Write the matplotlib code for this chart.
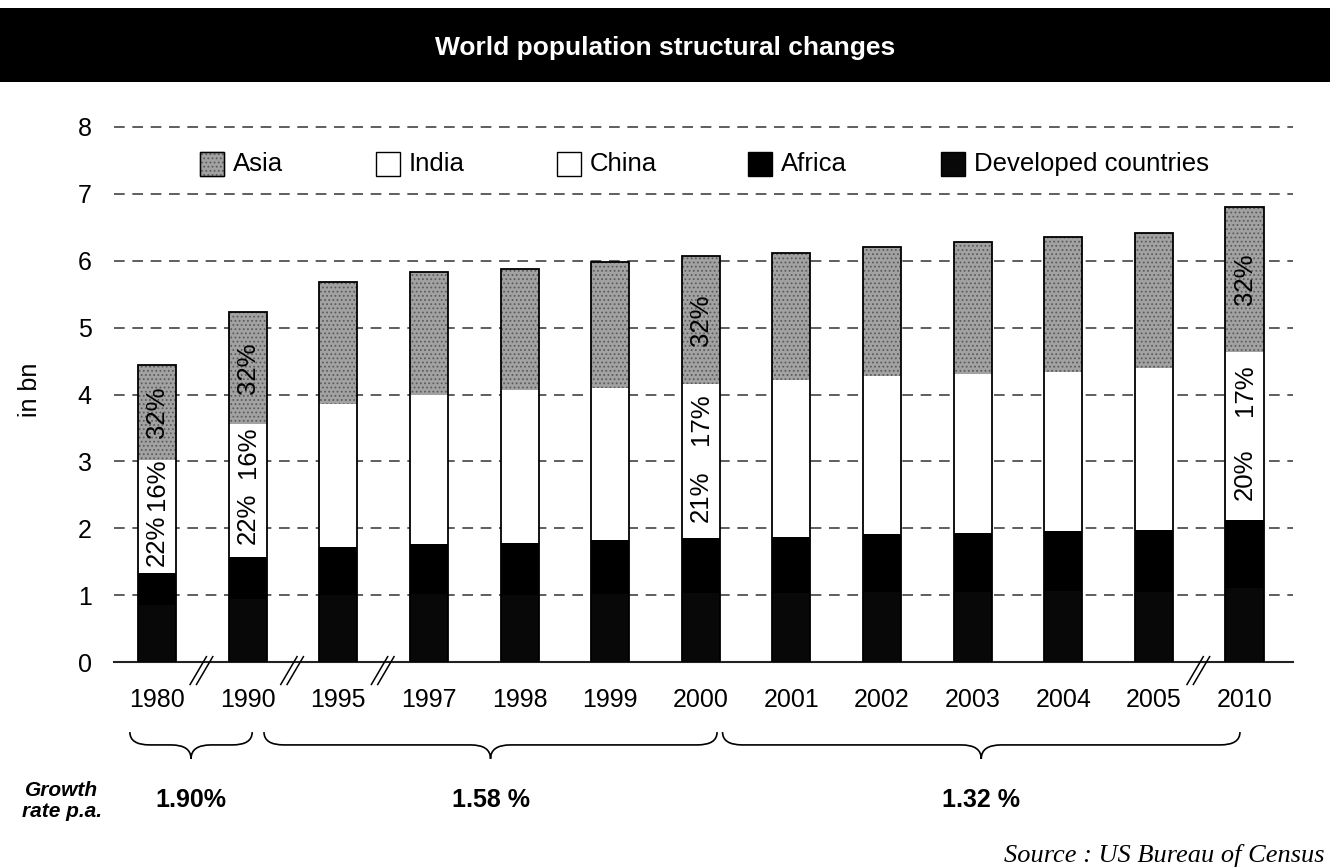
import numpy as np
import matplotlib.pyplot as plt
from matplotlib.patches import Rectangle, PathPatch
from matplotlib.path import Path

plt.rcParams['font.family'] = ['Liberation Sans', 'DejaVu Sans']
plt.rcParams['hatch.linewidth'] = 0.8

# population by region, in bn
years = ['1980', '1990', '1995', '1997', '1998', '1999', '2000',
         '2001', '2002', '2003', '2004', '2005', '2010']
developed = [0.85, 0.94, 1.00, 1.01, 1.00, 1.02, 1.03, 1.03, 1.05, 1.05, 1.06, 1.05, 1.10]
africa = [0.48, 0.63, 0.72, 0.76, 0.78, 0.80, 0.82, 0.84, 0.86, 0.88, 0.90, 0.92, 1.02]
china = [0.98, 1.15, 1.21, 1.24, 1.27, 1.26, 1.27, 1.28, 1.28, 1.29, 1.29, 1.31, 1.36]
india = [0.71, 0.84, 0.93, 0.99, 1.02, 1.02, 1.03, 1.07, 1.08, 1.09, 1.08, 1.11, 1.16]
asia = [1.42, 1.67, 1.82, 1.83, 1.81, 1.88, 1.92, 1.90, 1.94, 1.97, 2.03, 2.03, 2.16]

# share labels shown inside some bars
china_labels = ['22%', '22%', '', '', '', '', '21%', '', '', '', '', '', '20%']
india_labels = ['16%', '16%', '', '', '', '', '17%', '', '', '', '', '', '17%']
asia_labels = ['32%', '32%', '', '', '', '', '32%', '', '', '', '', '', '32%']

# growth rate per period (first year, last year, rate)
periods = [('1980', '1990', '1.90%'), ('1990', '2000', '1.58 %'), ('2000', '2010', '1.32 %')]
# gaps in the time axis
breaks_after = ['1980', '1990', '1995', '2005']

W, H = 1330, 868
fig = plt.figure(figsize=(W / 100, H / 100), dpi=100)
ax = fig.add_axes([114 / W, (H - 662) / H, (1293 - 114) / W, (662 - 127) / H])

x = np.arange(len(years))
bw = 0.42
series = [
    (developed, dict(color='#080808', edgecolor='#080808')),
    (africa, dict(color='black', edgecolor='black')),
    (china, dict(color='white', edgecolor='white')),
    (india, dict(color='white', edgecolor='white')),
    (asia, dict(color='#a2a2a2', edgecolor='#5c5c5c', hatch='....')),
]
bottom = np.zeros(len(years))
starts = []
for vals, style in series:
    ax.bar(x, vals, bw, bottom=bottom, linewidth=0, zorder=2, **style)
    starts.append(bottom.copy())
    bottom = bottom + np.array(vals)
total = bottom
ax.bar(x, total, bw, fill=False, edgecolor='black', linewidth=1.3, zorder=3)

for (vals, _), base, labels in zip(series[2:], starts[2:], [china_labels, india_labels, asia_labels]):
    for i, lab in enumerate(labels):
        if lab:
            ax.text(x[i], base[i] + vals[i] / 2, lab, rotation=90, ha='center', va='center',
                    fontsize=18.5, color='black', zorder=4)

ax.set_xlim(-0.475, 12.535)
ax.set_ylim(0, 8)
ax.set_xticks(x, years)
ax.set_yticks(range(9))
ax.tick_params(axis='x', length=0, pad=19, labelsize=18)
ax.tick_params(axis='y', length=0, pad=16, labelsize=18)
for side in ['left', 'right', 'top']:
    ax.spines[side].set_visible(False)
ax.spines['bottom'].set_linewidth(1.5)
ax.spines['bottom'].set_color('#222222')
for yv in range(1, 9):
    ax.axhline(yv, color='#333333', linewidth=1.1, linestyle=(0, (7, 5)), zorder=1, clip_on=False)

trans = ax.get_xaxis_transform()

# axis break marks
for yr in breaks_after:
    xb = years.index(yr) + 0.5
    for off in (-0.035, 0.035):
        ax.plot([xb + off - 0.1, xb + off + 0.08], [-0.042, 0.01], color='black',
                linewidth=1.1, transform=trans, clip_on=False, zorder=5)


def brace(x0, x1, y_top=-0.131, y_mid=-0.155, y_tip=-0.181, q=0.22):
    xm = (x0 + x1) / 2
    verts = [(x0, y_top), (x0, y_mid), (x0 + q, y_mid),
             (xm - q, y_mid), (xm, y_mid), (xm, y_tip),
             (xm, y_mid), (xm + q, y_mid),
             (x1 - q, y_mid), (x1, y_mid), (x1, y_top)]
    codes = [Path.MOVETO, Path.CURVE3, Path.CURVE3,
             Path.LINETO, Path.CURVE3, Path.CURVE3,
             Path.CURVE3, Path.CURVE3,
             Path.LINETO, Path.CURVE3, Path.CURVE3]
    ax.add_patch(PathPatch(Path(verts, codes), fill=False, edgecolor='black',
                           linewidth=1.2, transform=trans, clip_on=False))
    return xm


pads = [(-0.3, 0.05), (0.18, 0.18), (0.24, -0.05)]
for (y0, y1, rate), (p0, p1) in zip(periods, pads):
    xm = brace(years.index(y0) + p0, years.index(y1) + p1)
    ax.text(xm, -0.258, rate, transform=trans, ha='center', va='center',
            fontsize=18, fontweight='bold')

fig.text(62 / W, 1 - 801 / H, 'Growth\nrate p.a.', ha='center', va='center',
         fontsize=15, fontweight='bold', fontstyle='italic', linespacing=1.15)

fig.text(30 / W, 1 - 390 / H, 'in bn', rotation=90, ha='center', va='center', fontsize=18)

# title band
fig.add_artist(Rectangle((0, 1 - 82 / H), 1, 74 / H, transform=fig.transFigure,
                         facecolor='black', edgecolor='none'))
fig.text(0.5, 1 - 48 / H, 'World population structural changes', ha='center', va='center',
         color='white', fontsize=19, fontweight='bold')

# legend
legend_items = [('Asia', series[4][1]), ('India', series[3][1]), ('China', series[2][1]),
                ('Africa', series[1][1]), ('Developed countries', series[0][1])]
legend_x = [200, 376, 557, 748, 941]
for (name, style), lx in zip(legend_items, legend_x):
    fig.add_artist(Rectangle((lx / W, 1 - 176 / H), 24 / W, 24 / H, transform=fig.transFigure,
                             facecolor=style['color'], edgecolor='#5c5c5c' if 'hatch' in style else 'black',
                             hatch=style.get('hatch'), linewidth=1.0))
    if 'hatch' in style:
        fig.add_artist(Rectangle((lx / W, 1 - 176 / H), 24 / W, 24 / H, transform=fig.transFigure,
                                 fill=False, edgecolor='black', linewidth=1.0))
    fig.text((lx + 33) / W, 1 - 164 / H, name, ha='left', va='center', fontsize=18.5)

fig.text(1325 / W, 1 - 862 / H, 'Source : US Bureau of Census', ha='right', va='baseline',
         fontsize=19, fontstyle='italic', family=['Liberation Serif', 'DejaVu Serif'])

fig.savefig('out.png', dpi=100)
